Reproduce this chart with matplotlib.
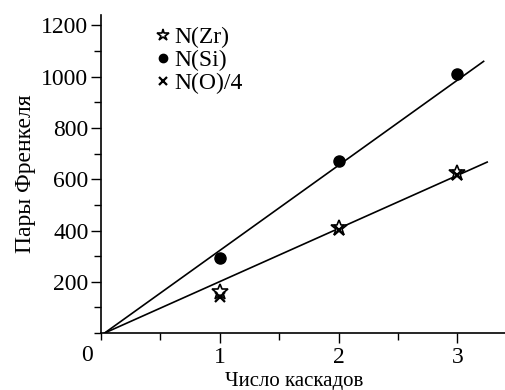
import numpy as np
import matplotlib.pyplot as plt
from matplotlib.ticker import MultipleLocator

plt.rcParams['font.family'] = ['Liberation Serif', 'DejaVu Serif']

# ------------------------------------------------------
# Data
cascades = [1, 2, 3]
n_zr = [160, 410, 624]
n_si = [292, 670, 1010]
n_o4 = [140, 403, 618]

# fitted lines (end points)
fit_x_si = [0.03, 3.22]
fit_y_si = [0, 1060]
fit_x_zr = [0.03, 3.25]
fit_y_zr = [0, 667]
# ------------------------------------------------------

fig = plt.figure(figsize=(5.05, 3.9), dpi=100)
ax = fig.add_axes([0.2, 0.146, 0.8, 0.815])

ax.plot(fit_x_si, fit_y_si, 'k-', lw=1.2)
ax.plot(fit_x_zr, fit_y_zr, 'k-', lw=1.2)

ax.plot(cascades, n_zr, linestyle='none', marker='*', ms=12, mfc='white',
        mec='black', mew=1.2, label='N(Zr)')
ax.plot(cascades, n_si, linestyle='none', marker='o', ms=8, color='black',
        label='N(Si)')
ax.plot(cascades, n_o4, linestyle='none', marker='x', ms=7, color='black',
        mew=1.6, label='N(O)/4')

ax.set_xlim(0, 3.4)
ax.set_ylim(0, 1240)

ax.set_xticks([1, 2, 3])
ax.xaxis.set_minor_locator(MultipleLocator(0.5))
ax.set_yticks([200, 400, 600, 800, 1000, 1200])
ax.yaxis.set_minor_locator(MultipleLocator(100))
ax.tick_params(axis='both', which='major', length=7, width=1, labelsize=17,
               direction='out', colors='black')
ax.tick_params(axis='both', which='minor', length=5, width=1, direction='out')
ax.tick_params(axis='x', pad=3)
ax.tick_params(axis='y', pad=2)

ax.spines['top'].set_visible(False)
ax.spines['right'].set_visible(False)
ax.spines['left'].set_linewidth(1.2)
ax.spines['bottom'].set_linewidth(1.2)

# the "0" label of the x-axis sits left of the spine
ax.text(-0.12, -0.039, '0', transform=ax.get_xaxis_transform(),
        ha='center', va='top', fontsize=17)

ax.set_xlabel('Число каскадов', fontsize=15, va='baseline')
ax.xaxis.set_label_coords(0.478, -0.165)
ax.set_ylabel('Пары Френкеля', fontsize=17, labelpad=4)

ax.legend(loc='upper left', bbox_to_anchor=(0.103, 1.008), frameon=False,
          fontsize=17, handlelength=0.5, handletextpad=0.25, labelspacing=0.05,
          borderaxespad=0.2, markerscale=0.75)

fig.savefig('out.png', dpi=100)
